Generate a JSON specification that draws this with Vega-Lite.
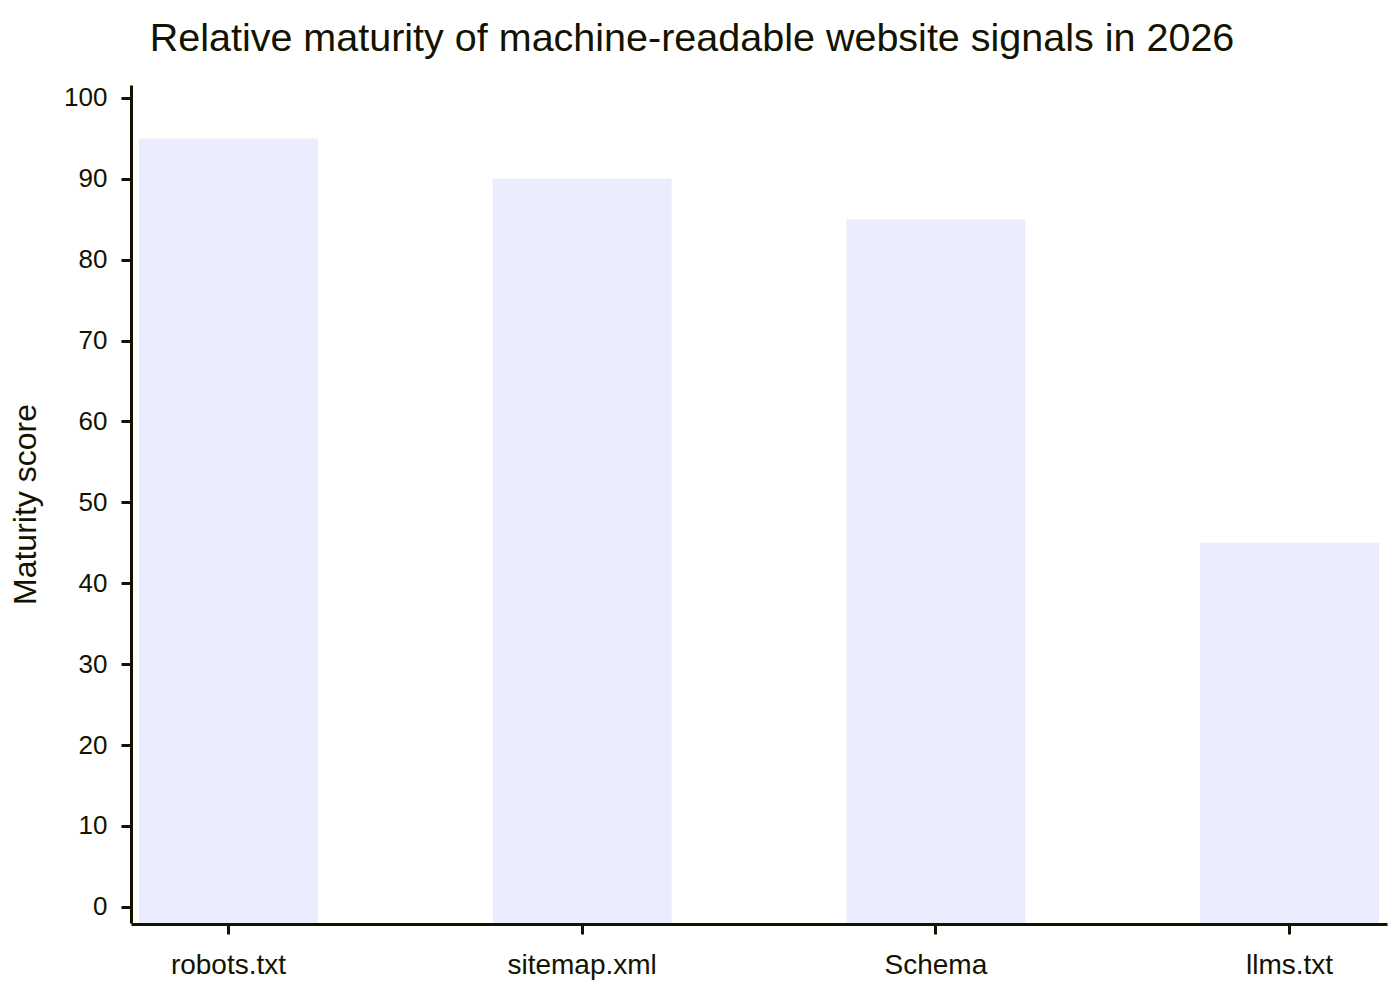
{
  "$schema": "https://vega.github.io/schema/vega-lite/v6.json",
  "autosize": "none",
  "padding": {"left": 131, "top": 85, "right": 13, "bottom": 77},
  "width": 1256,
  "height": 838,
  "background": "white",
  "title": {
    "text": "Relative maturity of machine-readable website signals in 2026",
    "anchor": "middle",
    "dx": -67,
    "dy": 38,
    "fontSize": 39.5,
    "font": "Liberation Sans",
    "fontWeight": "normal",
    "color": "#131300",
    "baseline": "alphabetic",
    "offset": 32
  },
  "data": {
    "values": [
      {"signal": "robots.txt", "score": 95},
      {"signal": "sitemap.xml", "score": 90},
      {"signal": "Schema", "score": 85},
      {"signal": "llms.txt", "score": 45}
    ]
  },
  "mark": {"type": "bar", "color": "#ECECFF"},
  "encoding": {
    "x": {
      "field": "signal",
      "type": "nominal",
      "sort": null,
      "scale": {"paddingInner": 0.494, "paddingOuter": 0.0226},
      "axis": {
        "title": null,
        "labelAngle": 0,
        "labelFontSize": 28,
        "labelFont": "Liberation Sans",
        "labelColor": "#131300",
        "labelPadding": 17,
        "domainColor": "#131300",
        "domainWidth": 3,
        "tickColor": "#131300",
        "tickWidth": 3,
        "tickSize": 10,
        "offset": 1
      }
    },
    "y": {
      "field": "score",
      "type": "quantitative",
      "scale": {"domain": [-2, 101.6], "nice": false, "zero": false},
      "axis": {
        "title": "Maturity score",
        "titleFontSize": 32,
        "titleFont": "Liberation Sans",
        "titleFontWeight": "normal",
        "titleColor": "#131300",
        "titlePadding": 21,
        "values": [0, 10, 20, 30, 40, 50, 60, 70, 80, 90, 100],
        "labelFontSize": 26,
        "labelFont": "Liberation Sans",
        "labelColor": "#131300",
        "labelPadding": 14,
        "domainColor": "#131300",
        "domainWidth": 3,
        "tickColor": "#131300",
        "tickWidth": 3,
        "tickSize": 10,
        "grid": false
      }
    },
    "y2": {"datum": -2}
  },
  "config": {
    "view": {"stroke": null}
  }
}
